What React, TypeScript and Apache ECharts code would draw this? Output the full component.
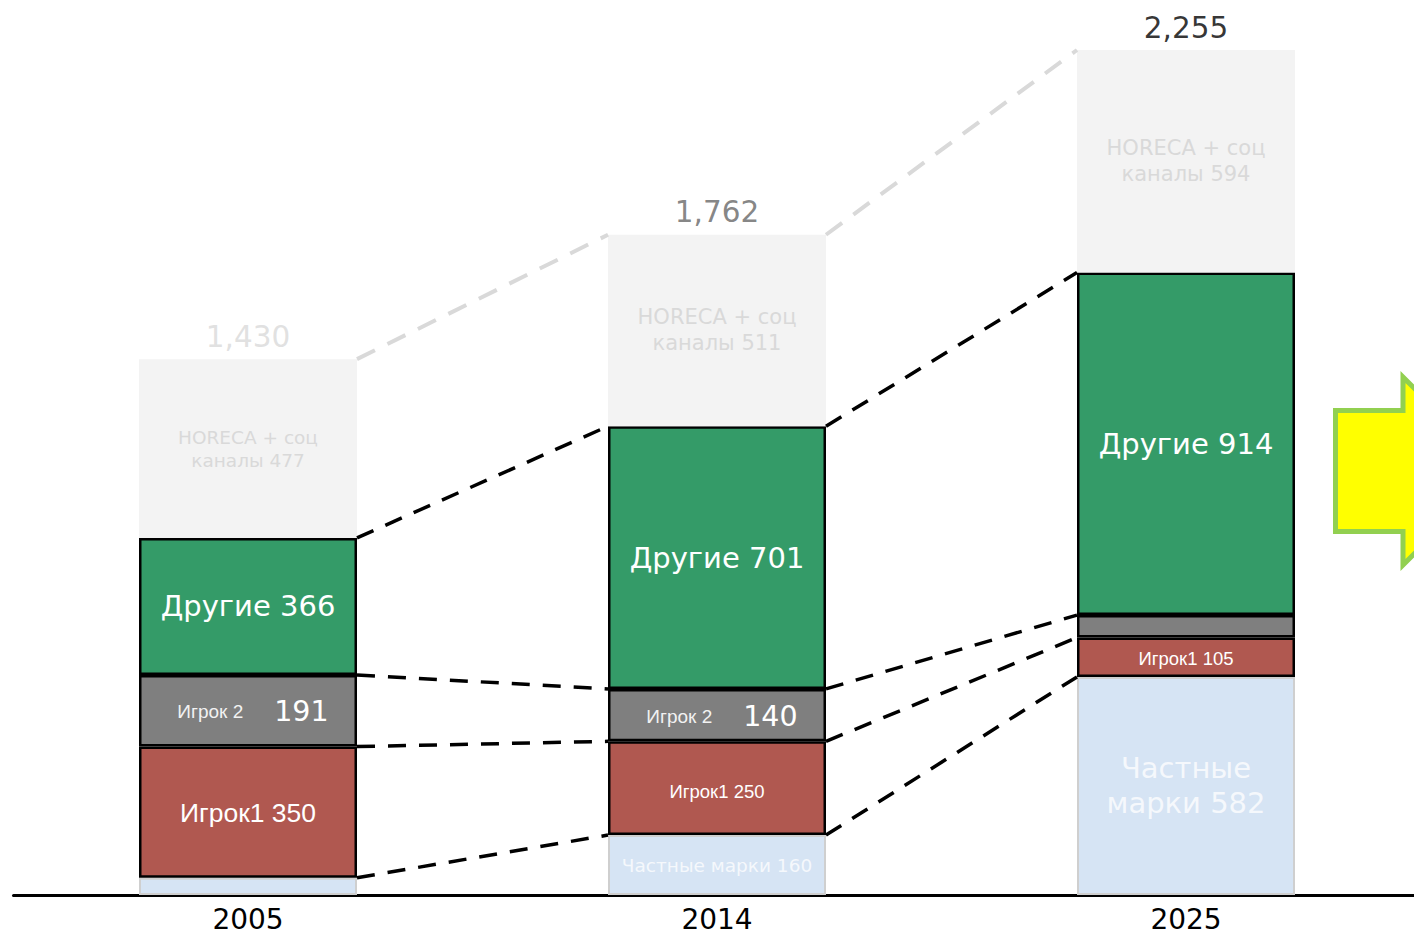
import React, { useEffect, useRef } from "react";
import * as echarts from "echarts";

// ---- data ----
const years = ["2005", "2014", "2025"];
const privateLabel = [46, 160, 582]; // Частные марки
const player1 = [350, 250, 105]; // Игрок1
const player2 = [191, 140, 60]; // Игрок 2
const others = [366, 701, 914]; // Другие
const horeca = [477, 511, 594]; // HORECA + соц каналы

// ---- layout constants ----
const BAND_PX = 469;
const BAR_PX = 218;
const GRID_LEFT = 13.5;
const H = BAR_PX / 2 / BAND_PX;
const DJ = "'DejaVu Sans', Verdana, sans-serif";
const AR = "'Liberation Sans', Arial, sans-serif";

const COLORS = {
  priv: "#d6e4f4",
  p1: "#b05850",
  p2: "#7f7f7f",
  oth: "#349b68",
  hor: "#f3f3f3",
};

function cum(arrs: number[][]): number[][] {
  const out: number[][] = [];
  let run = years.map(() => 0);
  for (const a of arrs) {
    run = run.map((v, i) => v + a[i]);
    out.push(run.slice());
  }
  return out;
}

export default function App() {
  const ref = useRef<HTMLDivElement>(null);

  useEffect(() => {
    document.body.style.margin = "0";
    if (!ref.current) return;
    const chart = echarts.init(ref.current, undefined, { renderer: "svg" });

    const bounds = cum([privateLabel, player1, player2, others, horeca]);
    const totals = bounds[4];

    const connector = (c: number[], color: string, width: number, dash: number[]) =>
      [0, 1].map((i) => ({
        type: "line",
        xAxisIndex: 1,
        yAxisIndex: 0,
        data: [
          [i + H, c[i]],
          [i + 1 - H, c[i + 1]],
        ],
        symbol: "none",
        silent: true,
        z: 5,
        lineStyle: { color, width, type: dash },
      }));

    const blackBorder = { borderColor: "#000", borderWidth: 2.5 };

    const privData = privateLabel.map((v, i) => ({
      value: v,
      label:
        i === 0
          ? { show: false }
          : i === 1
          ? { show: true, formatter: `Частные марки ${v}`, fontSize: 18.5 }
          : { show: true, formatter: `Частные\nмарки ${v}`, fontSize: 29, lineHeight: 35 },
    }));

    const p1Data = player1.map((v, i) => ({
      value: v,
      label: { fontSize: i === 0 ? 26.5 : 18.5, offset: [0, i === 1 ? 3 : 1] },
    }));

    const p2Data = player2.map((v, i) => ({
      value: v,
      label: { show: i < 2 },
    }));

    const horData = horeca.map((v, i) => ({
      value: v,
      label: {
        fontSize: i === 0 ? 18.5 : 21,
        lineHeight: i === 0 ? 23 : 26,
      },
    }));

    const totalColors = ["#d9d9d9", "#666666", "#000000"];

    const totalData = totals.map((v, i) => ({
      value: v,
      label: { color: totalColors[i] },
    }));

    const option: any = {
      animation: false,
      backgroundColor: "#fff",
      grid: { left: GRID_LEFT, top: 50, width: BAND_PX * 3, height: 845, containLabel: false },
      xAxis: [
        {
          type: "category",
          data: years,
          axisLine: { lineStyle: { color: "#000", width: 3 } },
          axisTick: { show: false },
          axisLabel: {
            fontSize: 28,
            lineHeight: 28,
            color: "#000",
            fontFamily: DJ,
            margin: 10,
          },
        },
        { type: "value", min: -0.5, max: 2.5, show: false },
      ],
      yAxis: { type: "value", min: 0, max: totals[2], show: false, splitLine: { show: false } },
      series: [
        {
          name: "Частные марки",
          type: "bar",
          stack: "s",
          barWidth: BAR_PX,
          data: privData,
          itemStyle: { color: COLORS.priv, borderColor: "#cfcfcf", borderWidth: 2 },
          label: { show: true, position: "inside", color: "#f5f8fc", fontFamily: DJ },
        },
        {
          name: "Игрок1",
          type: "bar",
          stack: "s",
          barWidth: BAR_PX,
          data: p1Data,
          itemStyle: { color: COLORS.p1, ...blackBorder },
          label: {
            show: true,
            position: "inside",
            color: "#fff",
            fontFamily: AR,
            formatter: (p: any) => `Игрок1 ${p.value}`,
          },
        },
        {
          name: "Игрок 2",
          type: "bar",
          stack: "s",
          barWidth: BAR_PX,
          data: p2Data,
          itemStyle: { color: COLORS.p2, ...blackBorder },
          label: {
            show: true,
            position: "inside",
            offset: [5, 1],
            formatter: (p: any) => `{a|Игрок 2}{b|${p.value}}`,
            rich: {
              a: {
                fontSize: 19,
                fontFamily: AR,
                color: "#f2f2f2",
                padding: [0, 31, 0, 0],
                verticalAlign: "middle",
              },
              b: { fontSize: 28.5, fontFamily: DJ, color: "#fff", verticalAlign: "middle" },
            },
          },
        },
        {
          name: "Другие",
          type: "bar",
          stack: "s",
          barWidth: BAR_PX,
          data: others,
          itemStyle: { color: COLORS.oth, ...blackBorder },
          label: {
            show: true,
            position: "inside",
            color: "#fff",
            fontSize: 29,
            fontFamily: DJ,
            formatter: (p: any) => `Другие ${p.value}`,
          },
        },
        {
          name: "HORECA + соц каналы",
          type: "bar",
          stack: "s",
          barWidth: BAR_PX,
          data: horData,
          itemStyle: { color: COLORS.hor },
          label: {
            show: true,
            position: "inside",
            color: "#d9d9d9",
            fontFamily: DJ,
            formatter: (p: any) => `HORECA + соц\nканалы ${p.value}`,
          },
        },
        {
          name: "Итого",
          type: "scatter",
          data: totalData,
          symbolSize: 1,
          itemStyle: { color: "rgba(0,0,0,0)" },
          silent: true,
          label: {
            show: true,
            position: "top",
            distance: 7,
            fontSize: 29.5,
            fontFamily: DJ,
            formatter: (p: any) => Number(p.value).toLocaleString("en-US"),
          },
        },
        ...connector(bounds[0], "#000", 3.5, [18, 13]),
        ...connector(bounds[1], "#000", 3.5, [18, 13]),
        ...connector(bounds[2], "#000", 3.5, [18, 13]),
        ...connector(bounds[3], "#000", 3.5, [18, 13]),
        ...connector(bounds[4], "#d9d9d9", 4, [20, 14]),
      ],
      graphic: [
        {
          type: "polygon",
          z: 10,
          shape: {
            points: [
              [1335.5, 410.5],
              [1403, 410.5],
              [1403, 377],
              [1497, 471],
              [1403, 565],
              [1403, 531.5],
              [1335.5, 531.5],
            ],
          },
          style: { fill: "#ffff00", stroke: "#92d050", lineWidth: 5 },
        },
      ],
    };

    chart.setOption(option);
    return () => chart.dispose();
  }, []);

  return (
    <div style={{ width: 1414, height: 934, overflow: "hidden", position: "relative" }}>
      <div ref={ref} style={{ width: Math.ceil(GRID_LEFT + BAND_PX * 3 + 1), height: 934 }} />
    </div>
  );
}
